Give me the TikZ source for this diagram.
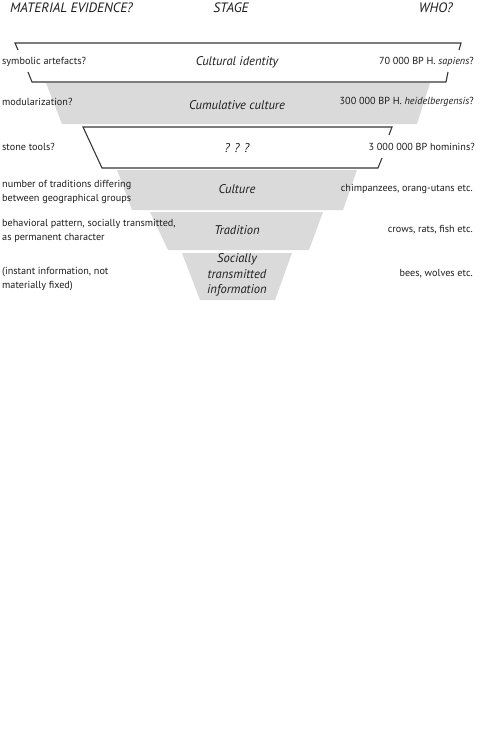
\documentclass[tikz,border=0pt]{standalone}
\usepackage{fontspec}
\setmainfont{PT Sans}
\begin{document}
\begin{tikzpicture}[x=1pt,y=-1pt,
  band/.style={fill=bandgray,draw=none},
  edge/.style={draw=linegray,line width=1.1pt},
  side/.style={inner sep=0pt,text=textgray,font=\fontsize{10.2}{13.8}\selectfont,align=left},
  rside/.style={side,anchor=east,align=right},
  lside/.style={side,anchor=west},
  stage/.style={inner sep=0pt,text=textgray,font=\fontsize{12.6}{15.8}\selectfont\itshape,align=center},
  head/.style={inner sep=0pt,text=textgray,font=\fontsize{13.6}{15}\selectfont\itshape}]
\definecolor{bandgray}{RGB}{218,218,218}
\definecolor{linegray}{RGB}{55,55,55}
\definecolor{textgray}{RGB}{30,30,30}
\useasboundingbox (0,0) rectangle (480,739);
\fill[white] (0,0) rectangle (480,739);
% headers
\node[head,anchor=west] (hmat) at (10,8) {MATERIAL EVIDENCE?};
\node[head] (hstage) at (231,8) {STAGE};
\node[head,anchor=east] (hwho) at (453,8) {WHO?};
% gray bands
\path[band] (46,83) -- (430,83) -- (417,124) -- (62,124) -- cycle;
\path[band] (117,170) -- (357,170) -- (343,210) -- (132,210) -- cycle;
\path[band] (150,212) -- (323,212) -- (309,250) -- (168,250) -- cycle;
\path[band] (182,253) -- (292,253) -- (275,300) -- (200,300) -- cycle;
% band 1 bracket
\coordinate (a1) at (15,43); \coordinate (a2) at (461,43);
\coordinate (a3) at (446,82); \coordinate (a4) at (32,82);
\draw[edge] (18,50) -- (a1) -- (a2) -- (459,50);
\draw[edge] (28,72) -- (a4) -- (a3) -- (448,72);
% band 3 bracket
\coordinate (b1) at (83,127); \coordinate (b2) at (392,127);
\coordinate (b3) at (378,168); \coordinate (b4) at (102,168);
\draw[edge] (389,135) -- (b2) -- (b1) -- (b4) -- (b3) -- (382,158);
% row 1
\node[lside] (l1) at (2,62) {symbolic artefacts?};
\node[stage] (s1) at (237,62) {Cultural identity};
\node[rside] (r1) at (474,62) {70 000 BP H. \textit{sapiens}?};
% row 2
\node[lside] (l2) at (2,102) {modularization?};
\node[stage] (s2) at (237,105) {Cumulative culture};
\node[rside] (r2) at (474,102) {300 000 BP H. \textit{heidelbergensis}?};
% row 3
\node[lside] (l3) at (2,147) {stone tools?};
\node[stage] (s3) at (237,148) {? ? ?};
\node[rside] (r3) at (475,147) {3 000 000 BP hominins?};
% row 4
\node[lside] (l4) at (2,192) {number of traditions differing\\between geographical groups};
\node[stage] (s4) at (237,189) {Culture};
\node[rside] (r4) at (473,189) {chimpanzees, orang-utans etc.};
% row 5
\node[lside] (l5) at (2,231) {behavioral pattern, socially transmitted,\\as permanent character};
\node[stage] (s5) at (237,230) {Tradition};
\node[rside] (r5) at (473,230) {crows, rats, fish etc.};
% row 6
\node[lside] (l6) at (2,279) {(instant information, not\\materially fixed)};
\node[stage] (s6) at (237,275) {Socially\\transmitted\\information};
\node[rside] (r6) at (473,274) {bees, wolves etc.};
\end{tikzpicture}
\end{document}
